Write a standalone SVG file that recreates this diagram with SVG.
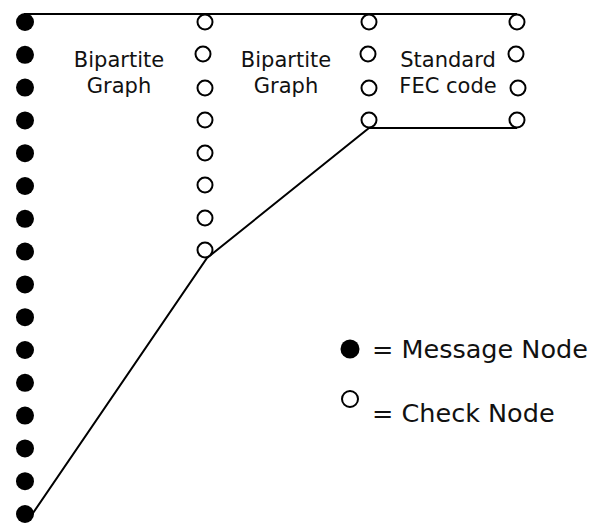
<svg xmlns="http://www.w3.org/2000/svg" width="597" height="524" viewBox="0 0 597 524">
<style>
.msg{fill:#000}
.chk{fill:#fff;stroke:#000;stroke-width:2}
.lbl{font-family:"DejaVu Sans","Liberation Sans",sans-serif;font-size:21px;fill:#111;text-anchor:middle}
.leg{font-family:"DejaVu Sans","Liberation Sans",sans-serif;font-size:25.5px;fill:#111}
.edge{fill:none;stroke:#000;stroke-width:2}
</style>
<rect width="597" height="524" fill="#fff"/>
<g id="connectors">
<line class="edge" x1="24" y1="14" x2="517" y2="14"/>
<polyline class="edge" points="517,128 369,128 207,258 31,516"/>
</g>
<g id="message-nodes">
<circle class="msg" cx="25" cy="22" r="9"/>
<circle class="msg" cx="25" cy="54.8" r="9"/>
<circle class="msg" cx="25" cy="87.6" r="9"/>
<circle class="msg" cx="25" cy="120.4" r="9"/>
<circle class="msg" cx="25" cy="153.2" r="9"/>
<circle class="msg" cx="25" cy="186" r="9"/>
<circle class="msg" cx="25" cy="218.8" r="9"/>
<circle class="msg" cx="25" cy="251.6" r="9"/>
<circle class="msg" cx="25" cy="284.4" r="9"/>
<circle class="msg" cx="25" cy="317.2" r="9"/>
<circle class="msg" cx="25" cy="350" r="9"/>
<circle class="msg" cx="25" cy="382.8" r="9"/>
<circle class="msg" cx="25" cy="415.6" r="9"/>
<circle class="msg" cx="25" cy="448.4" r="9"/>
<circle class="msg" cx="25" cy="481.2" r="9"/>
<circle class="msg" cx="25" cy="514" r="9"/>
</g>
<g id="check-nodes-1">
<circle class="chk" cx="205" cy="22" r="7.5"/>
<circle class="chk" cx="203" cy="54" r="7.5"/>
<circle class="chk" cx="205" cy="88" r="7.5"/>
<circle class="chk" cx="205" cy="120" r="7.5"/>
<circle class="chk" cx="205" cy="153" r="7.5"/>
<circle class="chk" cx="205" cy="185" r="7.5"/>
<circle class="chk" cx="205" cy="218" r="7.5"/>
<circle class="chk" cx="205" cy="250" r="7.5"/>
</g>
<g id="check-nodes-2">
<circle class="chk" cx="369" cy="22" r="7.5"/>
<circle class="chk" cx="368" cy="54" r="7.5"/>
<circle class="chk" cx="369" cy="88" r="7.5"/>
<circle class="chk" cx="369" cy="120" r="7.5"/>
</g>
<g id="check-nodes-3">
<circle class="chk" cx="517" cy="22" r="7.5"/>
<circle class="chk" cx="516" cy="54" r="7.5"/>
<circle class="chk" cx="518" cy="88" r="7.5"/>
<circle class="chk" cx="517" cy="120" r="7.5"/>
</g>
<g id="label-bipartite-1">
<text class="lbl" x="119" y="66.5">Bipartite</text>
<text class="lbl" x="119" y="93">Graph</text>
</g>
<g id="label-bipartite-2">
<text class="lbl" x="286" y="66.5">Bipartite</text>
<text class="lbl" x="286" y="93">Graph</text>
</g>
<g id="label-fec">
<text class="lbl" x="448" y="66.5">Standard</text>
<text class="lbl" x="448" y="93">FEC code</text>
</g>
<g id="legend">
<circle class="msg" cx="350" cy="349" r="9.5"/>
<text class="leg" x="372" y="358">= Message Node</text>
<circle class="chk" cx="350" cy="399" r="8"/>
<text class="leg" x="372" y="422">= Check Node</text>
</g>
</svg>
